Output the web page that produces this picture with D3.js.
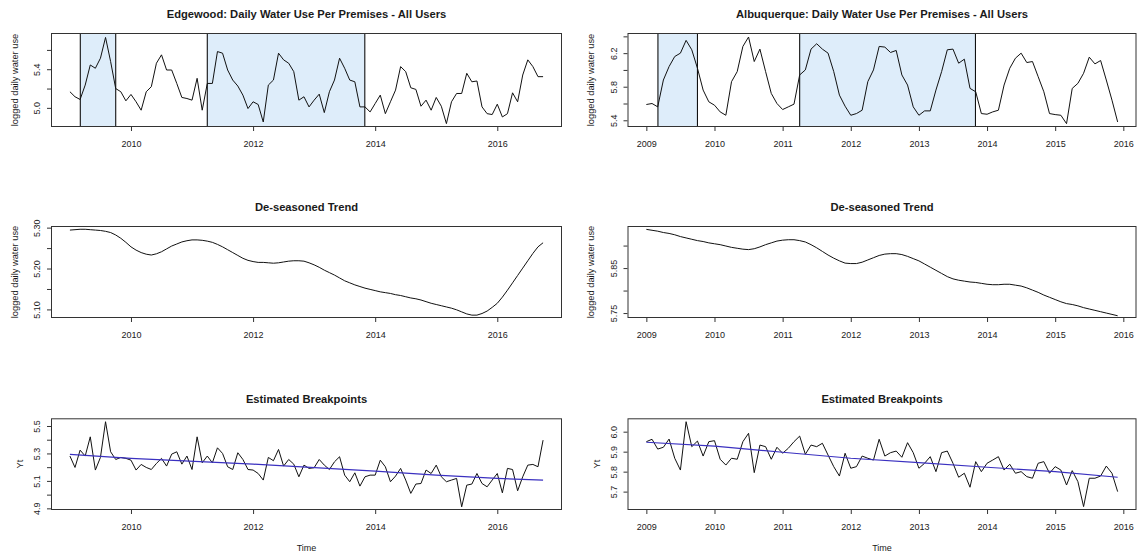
<!DOCTYPE html>
<html><head><meta charset="utf-8">
<script src="https://cdn.jsdelivr.net/npm/d3@7"></script>
<style>
body{margin:0;background:#fff}
svg{display:block}
text{font-family:"Liberation Sans",Arial,sans-serif;fill:#1a1a1a}
</style>
</head><body>
<svg id="chart" width="1137" height="552"></svg>
<script>
// ---------- DATA (monthly, starting Jan 2009) ----------
const startYear = 2009;

const edgewoodUse = [
 5.167,5.115,5.087,5.236,5.444,5.41,5.514,5.729,5.479,5.20,5.167,5.073,
 5.139,5.063,4.976,5.167,5.219,5.462,5.549,5.392,5.392,5.253,5.108,5.097,
 5.08,5.306,4.976,5.253,5.253,5.583,5.566,5.392,5.288,5.226,5.132,4.993,
 5.063,5.035,4.854,5.236,5.288,5.566,5.497,5.462,5.375,5.08,5.115,5.01,
 5.08,5.142,4.951,5.167,5.288,5.514,5.41,5.288,5.27,5.01,5.01,4.958,
 5.045,5.132,4.94,5.063,5.184,5.427,5.375,5.208,5.191,5.017,5.08,4.976,
 5.108,5.017,4.837,5.063,5.149,5.149,5.358,5.27,5.278,5.01,4.94,4.931,
 5.038,4.906,4.94,5.156,5.063,5.34,5.497,5.427,5.323,5.323];

const albuquerqueUse = [
 5.588,5.6,5.56,5.88,6.04,6.16,6.2,6.352,6.24,6.02,5.76,5.62,
 5.58,5.5,5.46,5.86,5.98,6.28,6.392,6.1,6.248,5.98,5.72,5.6,
 5.528,5.56,5.592,5.94,6.0,6.248,6.312,6.248,6.2,5.98,5.7,5.568,
 5.46,5.48,5.52,5.86,6.0,6.28,6.272,6.208,6.232,5.94,5.82,5.56,
 5.46,5.512,5.512,5.76,5.98,6.24,6.248,6.08,6.128,5.78,5.74,5.48,
 5.472,5.5,5.52,5.82,6.02,6.14,6.2,6.088,6.1,5.92,5.74,5.48,
 5.468,5.46,5.36,5.78,5.84,5.96,6.152,6.072,6.112,5.88,5.64,5.38];

const edgewoodTrend = [
 5.294,5.295,5.296,5.296,5.295,5.294,5.293,5.291,5.288,5.282,5.274,5.264,
 5.253,5.245,5.239,5.235,5.233,5.236,5.241,5.248,5.255,5.260,5.265,5.268,
 5.270,5.270,5.269,5.267,5.264,5.259,5.253,5.246,5.239,5.232,5.225,5.220,
 5.217,5.215,5.215,5.214,5.213,5.214,5.216,5.218,5.219,5.219,5.218,5.214,
 5.209,5.203,5.196,5.190,5.184,5.177,5.170,5.165,5.160,5.156,5.152,5.149,
 5.146,5.143,5.141,5.139,5.136,5.134,5.131,5.128,5.126,5.123,5.119,5.115,
 5.112,5.109,5.106,5.103,5.099,5.094,5.089,5.086,5.086,5.090,5.096,5.105,
 5.115,5.130,5.147,5.165,5.183,5.201,5.219,5.237,5.253,5.263];

const albuquerqueTrend = [
 5.936,5.934,5.932,5.929,5.927,5.924,5.920,5.917,5.914,5.911,5.909,5.906,
 5.904,5.902,5.899,5.896,5.894,5.892,5.891,5.893,5.897,5.902,5.906,5.910,
 5.912,5.913,5.913,5.911,5.908,5.902,5.895,5.887,5.879,5.872,5.866,5.861,
 5.860,5.860,5.863,5.868,5.873,5.878,5.881,5.882,5.882,5.880,5.876,5.871,
 5.866,5.859,5.852,5.845,5.838,5.831,5.826,5.823,5.821,5.819,5.818,5.816,
 5.814,5.813,5.813,5.814,5.814,5.812,5.810,5.806,5.801,5.796,5.790,5.785,
 5.780,5.775,5.771,5.769,5.766,5.762,5.759,5.756,5.753,5.750,5.747,5.744];

const edgewoodYt = [
 5.281,5.198,5.324,5.281,5.421,5.179,5.271,5.531,5.312,5.256,5.271,5.264,
 5.251,5.179,5.22,5.198,5.183,5.227,5.264,5.208,5.295,5.312,5.222,5.281,
 5.183,5.421,5.232,5.281,5.232,5.341,5.3,5.203,5.183,5.305,5.256,5.183,
 5.179,5.154,5.106,5.271,5.247,5.329,5.208,5.256,5.222,5.13,5.215,5.191,
 5.196,5.256,5.215,5.183,5.239,5.276,5.142,5.094,5.159,5.062,5.13,5.142,
 5.142,5.251,5.203,5.094,5.135,5.191,5.106,5.009,5.077,5.081,5.179,5.154,
 5.215,5.13,5.094,5.106,5.118,4.911,5.069,5.077,5.154,5.081,5.057,5.106,
 5.154,5.013,5.191,5.183,5.028,5.13,5.215,5.22,5.203,5.397];

const albuquerqueYt = [
 5.95,5.962,5.913,5.922,5.963,5.867,5.808,6.05,5.925,5.953,5.878,5.95,
 5.955,5.862,5.833,5.867,5.862,5.95,5.992,5.795,5.933,5.925,5.862,5.922,
 5.892,5.917,5.95,5.978,5.887,5.933,5.925,5.942,5.883,5.825,5.778,5.892,
 5.817,5.825,5.878,5.867,5.858,5.962,5.878,5.895,5.903,5.872,5.945,5.895,
 5.817,5.842,5.875,5.8,5.895,5.903,5.842,5.772,5.792,5.722,5.85,5.8,
 5.842,5.858,5.875,5.808,5.837,5.792,5.8,5.775,5.767,5.842,5.85,5.792,
 5.825,5.808,5.733,5.805,5.75,5.625,5.767,5.767,5.778,5.828,5.792,5.7];

// fitted breakpoint segments (time, value)
const edgewoodFitTime  = [2009.0, 2010.0, 2012.0, 2014.0, 2015.0, 2016.0, 2016.75];
const edgewoodFitValue = [5.293, 5.264, 5.222, 5.171, 5.142, 5.118, 5.106];
const albuquerqueFitTime  = [2009.0, 2010.0, 2011.0, 2012.0, 2013.0, 2014.0, 2015.0, 2015.917];
const albuquerqueFitValue = [5.947, 5.928, 5.897, 5.867, 5.845, 5.822, 5.80, 5.772];

// shaded drought periods
const shadeStart = [2009.17, 2011.25];
const shadeEnd   = [2009.75, 2013.83];

const titlesLeft  = ["Edgewood: Daily Water Use Per Premises - All Users", "De-seasoned Trend", "Estimated Breakpoints"];
const titlesRight = ["Albuquerque: Daily Water Use Per Premises - All Users", "De-seasoned Trend", "Estimated Breakpoints"];
const yLabels = ["logged daily water use", "logged daily water use", "Yt"];
const xLabel = "Time";

const xTicksLeft  = [2010, 2012, 2014, 2016];
const xTicksRight = [2009, 2010, 2011, 2012, 2013, 2014, 2015, 2016];
const yTicks = {
  L0: [5.0, 5.2, 5.4, 5.6], L0lab: [5.0, 5.4],
  R0: [5.4, 5.6, 5.8, 6.0, 6.2, 6.4], R0lab: [5.4, 5.8, 6.2],
  L1: [5.10, 5.15, 5.20, 5.25, 5.30], L1lab: [5.10, 5.20, 5.30],
  R1: [5.75, 5.80, 5.85, 5.90], R1lab: [5.75, 5.85],
  L2: [4.9, 5.0, 5.1, 5.2, 5.3, 5.4, 5.5], L2lab: [4.9, 5.1, 5.3, 5.5],
  R2: [5.7, 5.8, 5.9, 6.0], R2lab: [5.7, 5.8, 5.9, 6.0]
};

// ---------- LAYOUT ----------
const svg = d3.select("#chart");
const colX = [[51, 562], [627.5, 1136.5]];
const rowY = [[33, 127], [226, 318], [418.3, 510]];
const yDomains = {
  L0: [4.802, 5.775], R0: [5.32, 6.44],
  L1: [5.079, 5.304], R1: [5.739, 5.9435],
  L2: [4.888, 5.556], R2: [5.608, 6.067]
};
const monthT = i => startYear + i / 12;

function xDomainFor(n) {
  const t0 = monthT(0), t1 = monthT(n - 1), pad = 0.04 * (t1 - t0);
  return [t0 - pad, t1 + pad];
}

function panel(col, row, cfg) {
  const [x0, x1] = colX[col], [y0, y1] = rowY[row];
  const key = (col ? "R" : "L") + row;
  const x = d3.scaleLinear().domain(xDomainFor(cfg.series.length)).range([x0, x1]);
  const y = d3.scaleLinear().domain(yDomains[key]).range([y1, y0]);
  const g = svg.append("g");

  if (cfg.shade) {
    shadeStart.forEach((s, k) => {
      g.append("rect").attr("x", x(s)).attr("y", y0)
        .attr("width", x(shadeEnd[k]) - x(s)).attr("height", y1 - y0)
        .attr("fill", "#deedfa");
    });
  }
  const line = d3.line().x((d, i) => x(monthT(i))).y(d => y(d));
  g.append("path").datum(cfg.series).attr("d", line)
    .attr("fill", "none").attr("stroke", "#111").attr("stroke-width", 1);
  if (cfg.fitT) {
    const pts = cfg.fitT.map((t, i) => [t, cfg.fitV[i]]);
    g.append("path").datum(pts)
      .attr("d", d3.line().x(d => x(d[0])).y(d => y(d[1])))
      .attr("fill", "none").attr("stroke", "#3a30c0").attr("stroke-width", 1.2);
  }
  if (cfg.shade) {
    [...shadeStart, ...shadeEnd].forEach(s => {
      g.append("line").attr("x1", x(s)).attr("x2", x(s)).attr("y1", y0).attr("y2", y1)
        .attr("stroke", "#111").attr("stroke-width", 1.1);
    });
  }
  g.append("rect").attr("x", x0 + 0.5).attr("y", y0 + 0.5)
    .attr("width", x1 - x0 - 1).attr("height", y1 - y0 - 1)
    .attr("fill", "none").attr("stroke", "#333").attr("stroke-width", 1);

  const xt = col ? xTicksRight : xTicksLeft;
  const xa = d3.axisBottom(x).tickValues(xt).tickSize(4).tickPadding(5).tickFormat(d3.format("d"));
  const gx = g.append("g").attr("transform", `translate(0,${y1})`).call(xa);
  gx.select(".domain").remove();
  gx.selectAll(".tick line").attr("stroke", "#333");
  gx.selectAll(".tick text").attr("font-size", 9).attr("dy", null).attr("y", 19.5)
    .style("font-family", '"Liberation Sans",Arial,sans-serif').attr("fill", "#1a1a1a");

  const yt = yTicks[key], ylab = yTicks[key + "lab"];
  const dec = row === 1 ? 2 : 1;
  const ya = d3.axisLeft(y).tickValues(yt).tickSize(4)
    .tickFormat(d => ylab.some(v => Math.abs(v - d) < 1e-9) ? d.toFixed(dec) : "");
  const gy = g.append("g").attr("transform", `translate(${x0},0)`).call(ya);
  gy.select(".domain").remove();
  gy.selectAll(".tick line").attr("stroke", "#333");
  gy.selectAll(".tick text").attr("font-size", 9).attr("x", null).attr("dy", null)
    .attr("text-anchor", "middle")
    .attr("transform", "translate(-11,0) rotate(-90)")
    .style("font-family", '"Liberation Sans",Arial,sans-serif').attr("fill", "#1a1a1a");

  g.append("text").attr("x", (x0 + x1) / 2).attr("y", y0 - 15.5)
    .attr("text-anchor", "middle").attr("font-size", 11.2).attr("font-weight", "bold")
    .text(cfg.title);
  const yl = yLabels[row];
  g.append("text").attr("text-anchor", "middle").attr("font-size", 9.3)
    .attr("transform", `translate(${x0 - (row === 2 ? 28 : 33.5)},${(y0 + y1) / 2}) rotate(-90)`)
    .text(yl);
  if (row === 2) {
    g.append("text").attr("x", (x0 + x1) / 2).attr("y", 551)
      .attr("text-anchor", "middle").attr("font-size", 9).text(xLabel);
  }
}

panel(0, 0, {series: edgewoodUse, shade: true, title: titlesLeft[0]});
panel(1, 0, {series: albuquerqueUse, shade: true, title: titlesRight[0]});
panel(0, 1, {series: edgewoodTrend, title: titlesLeft[1]});
panel(1, 1, {series: albuquerqueTrend, title: titlesRight[1]});
panel(0, 2, {series: edgewoodYt, fitT: edgewoodFitTime, fitV: edgewoodFitValue, title: titlesLeft[2]});
panel(1, 2, {series: albuquerqueYt, fitT: albuquerqueFitTime, fitV: albuquerqueFitValue, title: titlesRight[2]});
</script>
</body></html>
